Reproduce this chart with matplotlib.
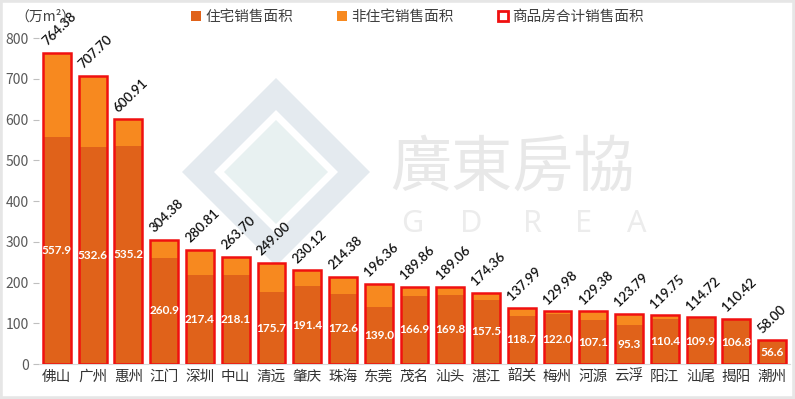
import numpy as np
import matplotlib; matplotlib.use("Agg")
import matplotlib.pyplot as plt
from matplotlib.patches import Patch, Polygon, Rectangle

plt.rcParams['font.family'] = ['Noto Sans CJK SC', 'DejaVu Sans']

cities = ["佛山", "广州", "惠州", "江门", "深圳", "中山", "清远", "肇庆", "珠海", "东莞", "茂名",
          "汕头", "湛江", "韶关", "梅州", "河源", "云浮", "阳江", "汕尾", "揭阳", "潮州"]
total = [764.38, 707.70, 600.91, 304.38, 280.81, 263.70, 249.00, 230.12, 214.38, 196.36, 189.86,
         189.06, 174.36, 137.99, 129.98, 129.38, 123.79, 119.75, 114.72, 110.42, 58.00]
resid = [557.9, 532.6, 535.2, 260.9, 217.4, 218.1, 175.7, 191.4, 172.6, 139.0, 166.9,
         169.8, 157.5, 118.7, 122.0, 107.1, 95.3, 110.4, 109.9, 106.8, 56.6]
nonres = [t - r for t, r in zip(total, resid)]

C_RES, C_NON, C_RED = "#E0621A", "#F7891F", "#F01010"
NUMFONT = ["Lato", "DejaVu Sans"]

fig = plt.figure(figsize=(7.95, 3.99), dpi=100)
ax = fig.add_axes([39 / 795, 35 / 399, 751 / 795, 326 / 399])

# watermark (figure-pixel coordinates), kept under the axes
W, H = 795, 399
def fpoly(cx, cy, r, color):
    pts = [(cx / W, (H - cy + r) / H), ((cx + r) / W, (H - cy) / H),
           (cx / W, (H - cy - r) / H), ((cx - r) / W, (H - cy) / H)]
    fig.patches.append(Polygon(pts, closed=True, transform=fig.transFigure,
                               facecolor=color, edgecolor="none", zorder=-2))
fpoly(276, 172, 94, "#E4EAEF")
fpoly(276, 172, 62, "white")
fpoly(276, 172, 52, "#E8F1F1")
fig.text(512 / W, 1 - 168 / H, "廣東房協", fontsize=44, color="#E8E8E8",
         ha="center", va="center", family=["Noto Sans CJK TC", "DejaVu Sans"], zorder=-2)
for ch, px in zip("GDREA", [412, 471, 532, 584, 637]):
    fig.text(px / W, 1 - 224 / H, ch, fontsize=22, color="#ECECEC", ha="center", va="center",
             family=["Noto Sans", "DejaVu Sans"], zorder=-2)
ax.set_facecolor("none")
fig.patches.append(Rectangle((0, 0), 1, 1, transform=fig.transFigure, fill=False,
                             edgecolor="#E6E6E6", linewidth=4, zorder=-2))

x = np.arange(len(cities))
w = 0.78
ax.bar(x, resid, w, color=C_RES, zorder=2)
ax.bar(x, nonres, w, bottom=resid, color=C_NON, zorder=2)
ax.bar(x, total, w, fill=False, edgecolor=C_RED, linewidth=1.8, zorder=3)

for i, (t, r) in enumerate(zip(total, resid)):
    ax.text(i, r / 2, f"{r:.1f}", ha="center", va="center", color="white",
            fontsize=8.5, fontweight="bold", family=NUMFONT, zorder=4)
    ax.text(i - 0.27, t + 16, f"{t:.2f}", ha="left", va="baseline", rotation=44,
            rotation_mode="anchor", fontsize=9.5, fontweight="semibold", family=NUMFONT,
            color="#111111", zorder=4, clip_on=False)

ax.set_xlim(-0.5, len(cities) - 0.5)
ax.set_ylim(0, 800)
ax.set_yticks(range(0, 801, 100))
ax.set_xticks(x)
ax.set_xticklabels(cities, fontsize=10.5, color="#333333")
ax.tick_params(axis="y", labelsize=10, colors="#595959", length=4, width=0.8)
ax.tick_params(axis="y", color="#BFBFBF")
ax.tick_params(axis="x", length=0, pad=4)
for s in ["top", "right", "left"]:
    ax.spines[s].set_visible(False)
ax.spines["bottom"].set_color("#D9D9D9")

fig.text(15 / W, 1 - 17 / H, "（万m²）", fontsize=10, color="#404040", ha="left", va="center")
handles = [Patch(facecolor=C_RES, edgecolor="none", label="住宅销售面积"),
           Patch(facecolor=C_NON, edgecolor="none", label="非住宅销售面积"),
           Patch(facecolor="white", edgecolor=C_RED, linewidth=2, label="商品房合计销售面积")]
fig.legend(handles=handles, loc="center", bbox_to_anchor=(0.525, 1 - 17 / H), ncol=3,
           frameon=False, fontsize=10.5, handlelength=0.7, handleheight=0.7,
           handletextpad=0.3, columnspacing=3.0, labelcolor="#404040")

fig.savefig("out.png", dpi=100)
